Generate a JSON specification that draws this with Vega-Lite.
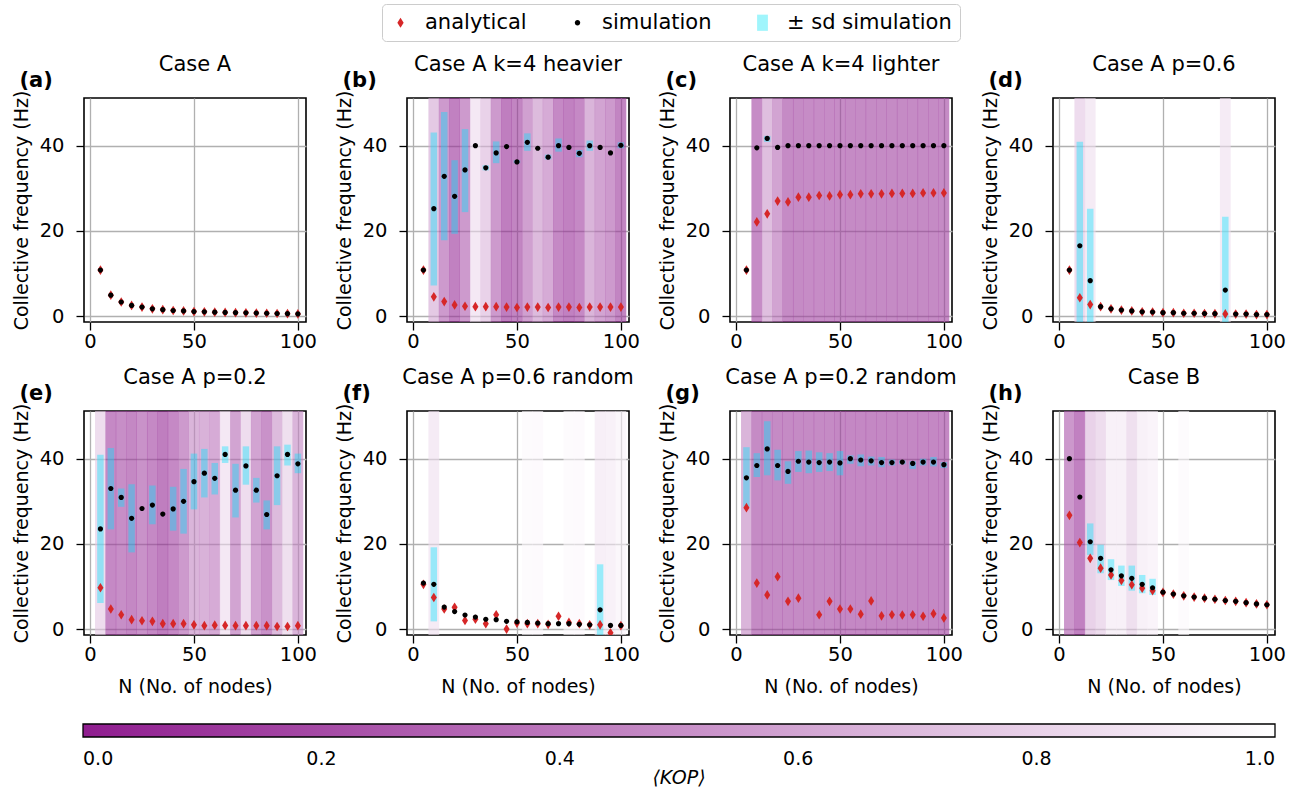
{
"$schema": "https://vega.github.io/schema/vega-lite/v6.json",
"padding": {"left": 11, "top": 3, "right": 10, "bottom": 5},
"background": "white",
"data": {"name": "d"},
"datasets": {"d": [
{"p":"a","N":5,"a":10.8,"s":10.8},{"p":"a","N":10,"a":4.9,"s":4.9},{"p":"a","N":15,"a":3.3,"s":3.3},{"p":"a","N":20,"a":2.5,"s":2.5},{"p":"a","N":25,"a":2.1,"s":2.1},{"p":"a","N":30,"a":1.7,"s":1.7},{"p":"a","N":35,"a":1.5,"s":1.5},{"p":"a","N":40,"a":1.3,"s":1.3},{"p":"a","N":45,"a":1.2,"s":1.2},{"p":"a","N":50,"a":1.05,"s":1.05},{"p":"a","N":55,"a":1.0,"s":1.0},{"p":"a","N":60,"a":0.9,"s":0.9},{"p":"a","N":65,"a":0.85,"s":0.85},{"p":"a","N":70,"a":0.8,"s":0.8},{"p":"a","N":75,"a":0.75,"s":0.75},{"p":"a","N":80,"a":0.7,"s":0.7},{"p":"a","N":85,"a":0.65,"s":0.65},{"p":"a","N":90,"a":0.6,"s":0.6},{"p":"a","N":95,"a":0.55,"s":0.55},{"p":"a","N":100,"a":0.5,"s":0.5},
{"p":"b","N":5,"a":10.8,"s":10.8},{"p":"b","N":10,"a":4.5,"s":25.2,"lo":7.2,"hi":43.1,"k":0.6},{"p":"b","N":15,"a":3.4,"s":32.8,"lo":17.8,"hi":47.9,"k":0.25},{"p":"b","N":20,"a":2.6,"s":28.1,"lo":19.3,"hi":36.6,"k":0.07},{"p":"b","N":25,"a":2.3,"s":34.3,"lo":24.4,"hi":43.9,"k":0.25},{"p":"b","N":30,"a":2.2,"s":40.0,"k":0.83},{"p":"b","N":35,"a":2.2,"s":34.8,"lo":34.2,"hi":35.4,"k":0.67},{"p":"b","N":40,"a":2.2,"s":38.3,"lo":35.9,"hi":41.0,"k":0.25},{"p":"b","N":45,"a":2.1,"s":39.8,"k":0.05},{"p":"b","N":50,"a":2.0,"s":36.2,"lo":35.9,"hi":36.6,"k":0.1},{"p":"b","N":55,"a":2.1,"s":40.8,"lo":38.8,"hi":42.9,"k":0.3},{"p":"b","N":60,"a":2.1,"s":39.4,"k":0.5},{"p":"b","N":65,"a":2.0,"s":37.3,"lo":36.8,"hi":37.9,"k":0.38},{"p":"b","N":70,"a":2.1,"s":40.0,"lo":38.6,"hi":41.7,"k":0.13},{"p":"b","N":75,"a":2.1,"s":39.6,"k":0.07},{"p":"b","N":80,"a":2.0,"s":38.2,"lo":37.3,"hi":39.0,"k":0.13},{"p":"b","N":85,"a":2.1,"s":40.0,"lo":38.8,"hi":41.2,"k":0.45},{"p":"b","N":90,"a":2.1,"s":39.6,"k":0.33},{"p":"b","N":95,"a":2.1,"s":38.3,"k":0.25},{"p":"b","N":100,"a":2.1,"s":40.1,"lo":39.4,"hi":40.8,"k":0.1},
{"p":"c","N":5,"a":10.8,"s":10.8},{"p":"c","N":10,"a":22.1,"s":39.5,"k":0.15},{"p":"c","N":15,"a":24.0,"s":41.7,"lo":40.9,"hi":42.3,"k":0.53},{"p":"c","N":20,"a":27.0,"s":39.6,"k":0.33},{"p":"c","N":25,"a":26.8,"s":40.0,"k":0.14},{"p":"c","N":30,"a":27.9,"s":40.0,"k":0.14},{"p":"c","N":35,"a":27.9,"s":40.0,"k":0.15},{"p":"c","N":40,"a":28.3,"s":40.0,"k":0.15},{"p":"c","N":45,"a":28.2,"s":40.0,"k":0.15},{"p":"c","N":50,"a":28.5,"s":40.0,"k":0.15},{"p":"c","N":55,"a":28.5,"s":40.0,"k":0.14},{"p":"c","N":60,"a":28.7,"s":40.0,"k":0.14},{"p":"c","N":65,"a":28.7,"s":40.0,"k":0.14},{"p":"c","N":70,"a":28.7,"s":40.0,"k":0.14},{"p":"c","N":75,"a":28.8,"s":40.0,"k":0.14},{"p":"c","N":80,"a":28.8,"s":40.0,"k":0.14},{"p":"c","N":85,"a":28.8,"s":40.0,"k":0.14},{"p":"c","N":90,"a":28.9,"s":40.0,"k":0.14},{"p":"c","N":95,"a":28.9,"s":40.0,"k":0.14},{"p":"c","N":100,"a":28.9,"s":40.0,"k":0.14},
{"p":"d","N":5,"a":10.8,"s":10.8},{"p":"d","N":10,"a":4.3,"s":16.5,"lo":-8,"hi":40.9,"k":0.74},{"p":"d","N":15,"a":2.7,"s":8.3,"lo":-8.6,"hi":25.2,"k":0.85},{"p":"d","N":20,"a":2.2,"s":2.2},{"p":"d","N":25,"a":1.7,"s":1.7},{"p":"d","N":30,"a":1.4,"s":1.4},{"p":"d","N":35,"a":1.2,"s":1.2},{"p":"d","N":40,"a":1.0,"s":1.0},{"p":"d","N":45,"a":0.95,"s":0.95},{"p":"d","N":50,"a":0.8,"s":0.8},{"p":"d","N":55,"a":0.8,"s":0.8},{"p":"d","N":60,"a":0.65,"s":0.65},{"p":"d","N":65,"a":0.65,"s":0.65},{"p":"d","N":70,"a":0.6,"s":0.6},{"p":"d","N":75,"a":0.55,"s":0.55},{"p":"d","N":80,"a":0.5,"s":6.1,"lo":-11,"hi":23.3,"k":0.85},{"p":"d","N":85,"a":0.45,"s":0.45},{"p":"d","N":90,"a":0.45,"s":0.45},{"p":"d","N":95,"a":0.35,"s":0.35},{"p":"d","N":100,"a":0.35,"s":0.35},
{"p":"e","N":5,"a":9.7,"s":23.5,"lo":6.1,"hi":40.9,"k":0.75},{"p":"e","N":10,"a":4.7,"s":33.0,"lo":23.4,"hi":42.5,"k":0.13},{"p":"e","N":15,"a":3.35,"s":30.9,"lo":28.7,"hi":33.0,"k":0.17},{"p":"e","N":20,"a":2.2,"s":26.0,"lo":18.0,"hi":34.0,"k":0.12},{"p":"e","N":25,"a":1.95,"s":28.3,"k":0.2},{"p":"e","N":30,"a":1.8,"s":29.1,"lo":24.6,"hi":33.7,"k":0.13},{"p":"e","N":35,"a":1.25,"s":27.0,"k":0.05},{"p":"e","N":40,"a":1.25,"s":28.2,"lo":23.1,"hi":33.4,"k":0.13},{"p":"e","N":45,"a":1.25,"s":30.0,"lo":22.4,"hi":37.6,"k":0.25},{"p":"e","N":50,"a":1.0,"s":34.6,"lo":28.1,"hi":41.2,"k":0.45},{"p":"e","N":55,"a":0.8,"s":36.6,"lo":30.9,"hi":42.3,"k":0.43},{"p":"e","N":60,"a":0.9,"s":35.4,"lo":31.6,"hi":39.0,"k":0.38},{"p":"e","N":65,"a":0.85,"s":41.0,"lo":39.0,"hi":42.9,"k":0.83},{"p":"e","N":70,"a":0.8,"s":32.6,"lo":26.2,"hi":38.8,"k":0.33},{"p":"e","N":75,"a":0.8,"s":38.3,"lo":33.9,"hi":42.9,"k":0.75},{"p":"e","N":80,"a":0.8,"s":32.6,"lo":29.7,"hi":35.5,"k":0.33},{"p":"e","N":85,"a":0.8,"s":26.9,"lo":23.4,"hi":30.2,"k":0.2},{"p":"e","N":90,"a":0.6,"s":36.0,"lo":29.1,"hi":42.9,"k":0.5},{"p":"e","N":95,"a":0.6,"s":41.0,"lo":38.4,"hi":43.3,"k":0.77},{"p":"e","N":100,"a":0.8,"s":38.8,"lo":36.6,"hi":41.2,"k":0.45},
{"p":"f","N":5,"a":10.5,"s":10.8},{"p":"f","N":10,"a":7.4,"s":10.5,"lo":1.8,"hi":19.2,"k":0.85},{"p":"f","N":15,"a":4.7,"s":5.15},{"p":"f","N":20,"a":5.1,"s":4.1},{"p":"f","N":25,"a":2.0,"s":3.3},{"p":"f","N":30,"a":2.3,"s":2.8},{"p":"f","N":35,"a":1.25,"s":2.3},{"p":"f","N":40,"a":3.35,"s":2.2},{"p":"f","N":45,"a":0.0,"s":1.8},{"p":"f","N":50,"a":1.4,"s":1.7},{"p":"f","N":55,"a":1.25,"s":1.55,"k":0.97},{"p":"f","N":60,"a":1.25,"s":1.4,"k":0.96},{"p":"f","N":65,"a":1.1,"s":1.25},{"p":"f","N":70,"a":3.0,"s":1.25},{"p":"f","N":75,"a":1.55,"s":1.25,"k":0.97},{"p":"f","N":80,"a":1.25,"s":1.1,"k":0.96},{"p":"f","N":85,"a":1.0,"s":1.0},{"p":"f","N":90,"a":1.0,"s":4.5,"lo":-6,"hi":15.2,"k":0.88},{"p":"f","N":95,"a":-0.9,"s":0.86,"k":0.9},{"p":"f","N":100,"a":0.8,"s":0.86,"k":0.94},
{"p":"g","N":5,"a":28.5,"s":35.5,"lo":28.7,"hi":42.7,"k":0.45},{"p":"g","N":10,"a":10.8,"s":38.4,"lo":35.7,"hi":41.3,"k":0.14},{"p":"g","N":15,"a":8.0,"s":42.3,"lo":36.1,"hi":48.8,"k":0.14},{"p":"g","N":20,"a":12.3,"s":38.4,"lo":34.9,"hi":42.1,"k":0.14},{"p":"g","N":25,"a":6.5,"s":37.0,"lo":34.1,"hi":39.4,"k":0.14},{"p":"g","N":30,"a":7.25,"s":39.4,"lo":36.9,"hi":41.8,"k":0.14},{"p":"g","N":35,"s":39.2,"lo":36.6,"hi":41.9,"k":0.14},{"p":"g","N":40,"a":3.35,"s":39.1,"lo":36.9,"hi":41.5,"k":0.14},{"p":"g","N":45,"a":6.5,"s":39.2,"lo":37.1,"hi":41.3,"k":0.14},{"p":"g","N":50,"a":4.7,"s":39.0,"lo":36.1,"hi":41.8,"k":0.12},{"p":"g","N":55,"a":4.7,"s":40.0,"lo":38.8,"hi":40.8,"k":0.12},{"p":"g","N":60,"a":3.5,"s":39.7,"lo":38.2,"hi":41.0,"k":0.12},{"p":"g","N":65,"a":6.6,"s":39.5,"lo":38.4,"hi":40.5,"k":0.12},{"p":"g","N":70,"a":3.1,"s":39.1,"lo":38.0,"hi":40.4,"k":0.12},{"p":"g","N":75,"a":3.35,"s":39.1,"lo":38.4,"hi":39.8,"k":0.12},{"p":"g","N":80,"a":3.3,"s":39.2,"lo":38.7,"hi":39.6,"k":0.12},{"p":"g","N":85,"a":3.35,"s":38.9,"lo":37.6,"hi":39.4,"k":0.12},{"p":"g","N":90,"a":3.0,"s":39.2,"lo":38.4,"hi":40.0,"k":0.12},{"p":"g","N":95,"a":3.6,"s":39.2,"lo":38.2,"hi":40.4,"k":0.12},{"p":"g","N":100,"a":2.6,"s":38.6,"lo":37.8,"hi":39.2,"k":0.12},
{"p":"h","N":5,"a":26.7,"s":40.0,"k":0.24},{"p":"h","N":10,"a":20.3,"s":31.0,"k":0.07},{"p":"h","N":15,"a":16.6,"s":20.5,"lo":17.4,"hi":24.8,"k":0.67},{"p":"h","N":20,"a":14.3,"s":16.6,"lo":13.1,"hi":19.8,"k":0.75},{"p":"h","N":25,"a":12.7,"s":13.9,"lo":11.5,"hi":16.4,"k":0.9},{"p":"h","N":30,"a":11.4,"s":12.5,"lo":10.1,"hi":14.9,"k":0.9},{"p":"h","N":35,"a":10.4,"s":11.9,"lo":9.0,"hi":14.9,"k":0.77},{"p":"h","N":40,"a":9.6,"s":10.5,"lo":8.4,"hi":12.7,"k":0.9},{"p":"h","N":45,"a":9.0,"s":9.7,"lo":8.0,"hi":11.8,"k":0.92},{"p":"h","N":50,"a":8.6,"s":8.65},{"p":"h","N":55,"a":8.2,"s":8.2},{"p":"h","N":60,"a":7.8,"s":7.8,"k":0.97},{"p":"h","N":65,"a":7.5,"s":7.5},{"p":"h","N":70,"a":7.25,"s":7.25},{"p":"h","N":75,"a":7.0,"s":7.0},{"p":"h","N":80,"a":6.7,"s":6.7},{"p":"h","N":85,"a":6.5,"s":6.5},{"p":"h","N":90,"a":6.2,"s":6.2},{"p":"h","N":95,"a":5.9,"s":5.9},{"p":"h","N":100,"a":5.7,"s":5.7}
]},
"columns": 4,
"spacing": {"row": 89, "column": 101},
"bounds": "flush",
"concat": [
{"width":222,"height":224,"title":{"text":"Case A","dy":10},"transform":[{"filter":"datum.p == 'a'"}],"resolve":{"axis":{"x":"independent","y":"independent"}},"layer":[
{"transform":[{"filter":"isValid(datum.k)"}],"mark":{"type":"bar","width":10.8,"fillOpacity":0.6,"clip":true},"encoding":{"x":{"field":"N","type":"quantitative","scale":{"domain":[-0.5,101.5],"nice":false,"zero":false},"axis":null},"y":{"datum":51.2,"type":"quantitative","scale":{"domain":[-1.4,51.2],"nice":false,"zero":false},"axis":null},"y2":{"datum":-1.4},"fill":{"field":"k","type":"quantitative","scale":{"domain":[0,1],"range":["#8f1d8f","#ffffff"],"interpolate":"rgb"},"legend":{"orient":"none","legendX":-1,"legendY":626,"direction":"horizontal","gradientLength":1192,"gradientThickness":13,"title":"⟨KOP⟩","titleOrient":"bottom","titleAnchor":"middle","titleFontStyle":"italic","titleFontWeight":"normal","titleFontSize":19,"titlePadding":0,"labelFontSize":19,"labelOffset":13,"labelAlign":"center","values":[0,0.2,0.4,0.6,0.8,1],"format":".1f","gradientStrokeColor":"#000000","gradientStrokeWidth":1.3,"padding":0}}}},
{"transform":[{"filter":"isValid(datum.hi)"}],"mark":{"type":"bar","width":6.5,"color":"#00e5ff","opacity":0.38,"clip":true},"encoding":{"x":{"field":"N","type":"quantitative","scale":{"domain":[-0.5,101.5],"nice":false,"zero":false},"axis":null},"y":{"field":"hi","type":"quantitative","scale":{"domain":[-1.4,51.2],"nice":false,"zero":false},"axis":null},"y2":{"field":"lo"}}},
{"transform":[{"filter":"isValid(datum.a)"}],"mark":{"type":"point","filled":true,"opacity":1,"size":300},"encoding":{"x":{"field":"N","type":"quantitative","scale":{"domain":[-0.5,101.5],"nice":false,"zero":false},"axis":{"orient":"bottom","values":[0,50,100],"grid":true,"title":null,"labelPadding":2}},"y":{"field":"a","type":"quantitative","scale":{"domain":[-1.4,51.2],"nice":false,"zero":false},"axis":{"orient":"left","values":[0,20,40],"grid":true,"title":"Collective frequency (Hz)","labelPadding":12,"titlePadding":8}},"color":{"datum":"analytical","type":"nominal","scale":{"domain":["analytical","simulation","± sd simulation"],"range":["#d62728","#000000","#a0f5fc"]},"legend":{"orient":"none","legendX":298,"legendY":-94,"direction":"horizontal","title":null,"symbolSize":324,"labelFontSize":21,"labelOffset":14,"labelLimit":0,"columnPadding":40,"padding":8,"strokeColor":"#cccccc","cornerRadius":4,"fillColor":"#ffffff","symbolStrokeWidth":0,"symbolOpacity":1}},"shape":{"datum":"analytical","type":"nominal","scale":{"domain":["analytical","simulation","± sd simulation"],"range":["M0,-0.56L0.35,0L0,0.56L-0.35,0Z","M0.3,0A0.3,0.3,0,1,1,-0.3,0A0.3,0.3,0,1,1,0.3,0Z","M-0.6,-0.9H0.6V0.9H-0.6Z"]},"legend":{"orient":"none","legendX":298,"legendY":-94,"direction":"horizontal","title":null,"symbolSize":324,"labelFontSize":21,"labelOffset":14,"labelLimit":0,"columnPadding":40,"padding":8,"strokeColor":"#cccccc","cornerRadius":4,"fillColor":"#ffffff","symbolStrokeWidth":0,"symbolOpacity":1}}}},
{"transform":[{"filter":"isValid(datum.s)"}],"mark":{"type":"point","filled":true,"opacity":1,"size":300},"encoding":{"x":{"field":"N","type":"quantitative","scale":{"domain":[-0.5,101.5],"nice":false,"zero":false},"axis":{"orient":"top","title":"(a)","labels":false,"ticks":false,"domain":false,"grid":false,"titleFontWeight":"bold","titleFontSize":21,"titleAlign":"left","titleAnchor":"start","titleX":-65,"titleY":-12,"titleBaseline":"alphabetic"}},"y":{"field":"s","type":"quantitative","scale":{"domain":[-1.4,51.2],"nice":false,"zero":false},"axis":null},"color":{"datum":"simulation","type":"nominal"},"shape":{"datum":"simulation","type":"nominal"}}}
]},
{"width":222,"height":224,"title":{"text":"Case A k=4 heavier","dy":10},"transform":[{"filter":"datum.p == 'b'"}],"resolve":{"axis":{"x":"independent","y":"independent"}},"layer":[
{"transform":[{"filter":"isValid(datum.k)"}],"mark":{"type":"bar","width":10.8,"fillOpacity":0.6,"clip":true},"encoding":{"x":{"field":"N","type":"quantitative","scale":{"domain":[-0.5,101.5],"nice":false,"zero":false},"axis":null},"y":{"datum":51.2,"type":"quantitative","scale":{"domain":[-1.4,51.2],"nice":false,"zero":false},"axis":null},"y2":{"datum":-1.4},"fill":{"field":"k","type":"quantitative"}}},
{"transform":[{"filter":"isValid(datum.hi)"}],"mark":{"type":"bar","width":6.5,"color":"#00e5ff","opacity":0.38,"clip":true},"encoding":{"x":{"field":"N","type":"quantitative","scale":{"domain":[-0.5,101.5],"nice":false,"zero":false},"axis":null},"y":{"field":"hi","type":"quantitative","scale":{"domain":[-1.4,51.2],"nice":false,"zero":false},"axis":null},"y2":{"field":"lo"}}},
{"transform":[{"filter":"isValid(datum.a)"}],"mark":{"type":"point","filled":true,"opacity":1,"size":300},"encoding":{"x":{"field":"N","type":"quantitative","scale":{"domain":[-0.5,101.5],"nice":false,"zero":false},"axis":{"orient":"bottom","values":[0,50,100],"grid":true,"title":null,"labelPadding":2}},"y":{"field":"a","type":"quantitative","scale":{"domain":[-1.4,51.2],"nice":false,"zero":false},"axis":{"orient":"left","values":[0,20,40],"grid":true,"title":"Collective frequency (Hz)","labelPadding":12,"titlePadding":8}},"color":{"datum":"analytical","type":"nominal"},"shape":{"datum":"analytical","type":"nominal"}}},
{"transform":[{"filter":"isValid(datum.s)"}],"mark":{"type":"point","filled":true,"opacity":1,"size":300},"encoding":{"x":{"field":"N","type":"quantitative","scale":{"domain":[-0.5,101.5],"nice":false,"zero":false},"axis":{"orient":"top","title":"(b)","labels":false,"ticks":false,"domain":false,"grid":false,"titleFontWeight":"bold","titleFontSize":21,"titleAlign":"left","titleAnchor":"start","titleX":-65,"titleY":-12,"titleBaseline":"alphabetic"}},"y":{"field":"s","type":"quantitative","scale":{"domain":[-1.4,51.2],"nice":false,"zero":false},"axis":null},"color":{"datum":"simulation","type":"nominal"},"shape":{"datum":"simulation","type":"nominal"}}}
]},
{"width":222,"height":224,"title":{"text":"Case A k=4 lighter","dy":10},"transform":[{"filter":"datum.p == 'c'"}],"resolve":{"axis":{"x":"independent","y":"independent"}},"layer":[
{"transform":[{"filter":"isValid(datum.k)"}],"mark":{"type":"bar","width":10.8,"fillOpacity":0.6,"clip":true},"encoding":{"x":{"field":"N","type":"quantitative","scale":{"domain":[-0.5,101.5],"nice":false,"zero":false},"axis":null},"y":{"datum":51.2,"type":"quantitative","scale":{"domain":[-1.4,51.2],"nice":false,"zero":false},"axis":null},"y2":{"datum":-1.4},"fill":{"field":"k","type":"quantitative"}}},
{"transform":[{"filter":"isValid(datum.hi)"}],"mark":{"type":"bar","width":6.5,"color":"#00e5ff","opacity":0.38,"clip":true},"encoding":{"x":{"field":"N","type":"quantitative","scale":{"domain":[-0.5,101.5],"nice":false,"zero":false},"axis":null},"y":{"field":"hi","type":"quantitative","scale":{"domain":[-1.4,51.2],"nice":false,"zero":false},"axis":null},"y2":{"field":"lo"}}},
{"transform":[{"filter":"isValid(datum.a)"}],"mark":{"type":"point","filled":true,"opacity":1,"size":300},"encoding":{"x":{"field":"N","type":"quantitative","scale":{"domain":[-0.5,101.5],"nice":false,"zero":false},"axis":{"orient":"bottom","values":[0,50,100],"grid":true,"title":null,"labelPadding":2}},"y":{"field":"a","type":"quantitative","scale":{"domain":[-1.4,51.2],"nice":false,"zero":false},"axis":{"orient":"left","values":[0,20,40],"grid":true,"title":"Collective frequency (Hz)","labelPadding":12,"titlePadding":8}},"color":{"datum":"analytical","type":"nominal"},"shape":{"datum":"analytical","type":"nominal"}}},
{"transform":[{"filter":"isValid(datum.s)"}],"mark":{"type":"point","filled":true,"opacity":1,"size":300},"encoding":{"x":{"field":"N","type":"quantitative","scale":{"domain":[-0.5,101.5],"nice":false,"zero":false},"axis":{"orient":"top","title":"(c)","labels":false,"ticks":false,"domain":false,"grid":false,"titleFontWeight":"bold","titleFontSize":21,"titleAlign":"left","titleAnchor":"start","titleX":-65,"titleY":-12,"titleBaseline":"alphabetic"}},"y":{"field":"s","type":"quantitative","scale":{"domain":[-1.4,51.2],"nice":false,"zero":false},"axis":null},"color":{"datum":"simulation","type":"nominal"},"shape":{"datum":"simulation","type":"nominal"}}}
]},
{"width":222,"height":224,"title":{"text":"Case A p=0.6","dy":10},"transform":[{"filter":"datum.p == 'd'"}],"resolve":{"axis":{"x":"independent","y":"independent"}},"layer":[
{"transform":[{"filter":"isValid(datum.k)"}],"mark":{"type":"bar","width":10.8,"fillOpacity":0.6,"clip":true},"encoding":{"x":{"field":"N","type":"quantitative","scale":{"domain":[-0.5,101.5],"nice":false,"zero":false},"axis":null},"y":{"datum":51.2,"type":"quantitative","scale":{"domain":[-1.4,51.2],"nice":false,"zero":false},"axis":null},"y2":{"datum":-1.4},"fill":{"field":"k","type":"quantitative"}}},
{"transform":[{"filter":"isValid(datum.hi)"}],"mark":{"type":"bar","width":6.5,"color":"#00e5ff","opacity":0.38,"clip":true},"encoding":{"x":{"field":"N","type":"quantitative","scale":{"domain":[-0.5,101.5],"nice":false,"zero":false},"axis":null},"y":{"field":"hi","type":"quantitative","scale":{"domain":[-1.4,51.2],"nice":false,"zero":false},"axis":null},"y2":{"field":"lo"}}},
{"transform":[{"filter":"isValid(datum.a)"}],"mark":{"type":"point","filled":true,"opacity":1,"size":300},"encoding":{"x":{"field":"N","type":"quantitative","scale":{"domain":[-0.5,101.5],"nice":false,"zero":false},"axis":{"orient":"bottom","values":[0,50,100],"grid":true,"title":null,"labelPadding":2}},"y":{"field":"a","type":"quantitative","scale":{"domain":[-1.4,51.2],"nice":false,"zero":false},"axis":{"orient":"left","values":[0,20,40],"grid":true,"title":"Collective frequency (Hz)","labelPadding":12,"titlePadding":8}},"color":{"datum":"analytical","type":"nominal"},"shape":{"datum":"analytical","type":"nominal"}}},
{"transform":[{"filter":"isValid(datum.s)"}],"mark":{"type":"point","filled":true,"opacity":1,"size":300},"encoding":{"x":{"field":"N","type":"quantitative","scale":{"domain":[-0.5,101.5],"nice":false,"zero":false},"axis":{"orient":"top","title":"(d)","labels":false,"ticks":false,"domain":false,"grid":false,"titleFontWeight":"bold","titleFontSize":21,"titleAlign":"left","titleAnchor":"start","titleX":-65,"titleY":-12,"titleBaseline":"alphabetic"}},"y":{"field":"s","type":"quantitative","scale":{"domain":[-1.4,51.2],"nice":false,"zero":false},"axis":null},"color":{"datum":"simulation","type":"nominal"},"shape":{"datum":"simulation","type":"nominal"}}}
]},
{"width":222,"height":224,"title":{"text":"Case A p=0.2","dy":10},"transform":[{"filter":"datum.p == 'e'"}],"resolve":{"axis":{"x":"independent","y":"independent"}},"layer":[
{"transform":[{"filter":"isValid(datum.k)"}],"mark":{"type":"bar","width":10.8,"fillOpacity":0.6,"clip":true},"encoding":{"x":{"field":"N","type":"quantitative","scale":{"domain":[-0.5,101.5],"nice":false,"zero":false},"axis":null},"y":{"datum":51.2,"type":"quantitative","scale":{"domain":[-1.4,51.2],"nice":false,"zero":false},"axis":null},"y2":{"datum":-1.4},"fill":{"field":"k","type":"quantitative"}}},
{"transform":[{"filter":"isValid(datum.hi)"}],"mark":{"type":"bar","width":6.5,"color":"#00e5ff","opacity":0.38,"clip":true},"encoding":{"x":{"field":"N","type":"quantitative","scale":{"domain":[-0.5,101.5],"nice":false,"zero":false},"axis":null},"y":{"field":"hi","type":"quantitative","scale":{"domain":[-1.4,51.2],"nice":false,"zero":false},"axis":null},"y2":{"field":"lo"}}},
{"transform":[{"filter":"isValid(datum.a)"}],"mark":{"type":"point","filled":true,"opacity":1,"size":300},"encoding":{"x":{"field":"N","type":"quantitative","scale":{"domain":[-0.5,101.5],"nice":false,"zero":false},"axis":{"orient":"bottom","values":[0,50,100],"grid":true,"title":"N (No. of nodes)","labelPadding":2,"titlePadding":14}},"y":{"field":"a","type":"quantitative","scale":{"domain":[-1.4,51.2],"nice":false,"zero":false},"axis":{"orient":"left","values":[0,20,40],"grid":true,"title":"Collective frequency (Hz)","labelPadding":12,"titlePadding":8}},"color":{"datum":"analytical","type":"nominal"},"shape":{"datum":"analytical","type":"nominal"}}},
{"transform":[{"filter":"isValid(datum.s)"}],"mark":{"type":"point","filled":true,"opacity":1,"size":300},"encoding":{"x":{"field":"N","type":"quantitative","scale":{"domain":[-0.5,101.5],"nice":false,"zero":false},"axis":{"orient":"top","title":"(e)","labels":false,"ticks":false,"domain":false,"grid":false,"titleFontWeight":"bold","titleFontSize":21,"titleAlign":"left","titleAnchor":"start","titleX":-65,"titleY":-12,"titleBaseline":"alphabetic"}},"y":{"field":"s","type":"quantitative","scale":{"domain":[-1.4,51.2],"nice":false,"zero":false},"axis":null},"color":{"datum":"simulation","type":"nominal"},"shape":{"datum":"simulation","type":"nominal"}}}
]},
{"width":222,"height":224,"title":{"text":"Case A p=0.6 random","dy":10},"transform":[{"filter":"datum.p == 'f'"}],"resolve":{"axis":{"x":"independent","y":"independent"}},"layer":[
{"transform":[{"filter":"isValid(datum.k)"}],"mark":{"type":"bar","width":10.8,"fillOpacity":0.6,"clip":true},"encoding":{"x":{"field":"N","type":"quantitative","scale":{"domain":[-0.5,101.5],"nice":false,"zero":false},"axis":null},"y":{"datum":51.2,"type":"quantitative","scale":{"domain":[-1.4,51.2],"nice":false,"zero":false},"axis":null},"y2":{"datum":-1.4},"fill":{"field":"k","type":"quantitative"}}},
{"transform":[{"filter":"isValid(datum.hi)"}],"mark":{"type":"bar","width":6.5,"color":"#00e5ff","opacity":0.38,"clip":true},"encoding":{"x":{"field":"N","type":"quantitative","scale":{"domain":[-0.5,101.5],"nice":false,"zero":false},"axis":null},"y":{"field":"hi","type":"quantitative","scale":{"domain":[-1.4,51.2],"nice":false,"zero":false},"axis":null},"y2":{"field":"lo"}}},
{"transform":[{"filter":"isValid(datum.a)"}],"mark":{"type":"point","filled":true,"opacity":1,"size":300,"clip":true},"encoding":{"x":{"field":"N","type":"quantitative","scale":{"domain":[-0.5,101.5],"nice":false,"zero":false},"axis":{"orient":"bottom","values":[0,50,100],"grid":true,"title":"N (No. of nodes)","labelPadding":2,"titlePadding":14}},"y":{"field":"a","type":"quantitative","scale":{"domain":[-1.4,51.2],"nice":false,"zero":false},"axis":{"orient":"left","values":[0,20,40],"grid":true,"title":"Collective frequency (Hz)","labelPadding":12,"titlePadding":8}},"color":{"datum":"analytical","type":"nominal"},"shape":{"datum":"analytical","type":"nominal"}}},
{"transform":[{"filter":"isValid(datum.s)"}],"mark":{"type":"point","filled":true,"opacity":1,"size":300},"encoding":{"x":{"field":"N","type":"quantitative","scale":{"domain":[-0.5,101.5],"nice":false,"zero":false},"axis":{"orient":"top","title":"(f)","labels":false,"ticks":false,"domain":false,"grid":false,"titleFontWeight":"bold","titleFontSize":21,"titleAlign":"left","titleAnchor":"start","titleX":-65,"titleY":-12,"titleBaseline":"alphabetic"}},"y":{"field":"s","type":"quantitative","scale":{"domain":[-1.4,51.2],"nice":false,"zero":false},"axis":null},"color":{"datum":"simulation","type":"nominal"},"shape":{"datum":"simulation","type":"nominal"}}}
]},
{"width":222,"height":224,"title":{"text":"Case A p=0.2 random","dy":10},"transform":[{"filter":"datum.p == 'g'"}],"resolve":{"axis":{"x":"independent","y":"independent"}},"layer":[
{"transform":[{"filter":"isValid(datum.k)"}],"mark":{"type":"bar","width":10.8,"fillOpacity":0.6,"clip":true},"encoding":{"x":{"field":"N","type":"quantitative","scale":{"domain":[-0.5,101.5],"nice":false,"zero":false},"axis":null},"y":{"datum":51.2,"type":"quantitative","scale":{"domain":[-1.4,51.2],"nice":false,"zero":false},"axis":null},"y2":{"datum":-1.4},"fill":{"field":"k","type":"quantitative"}}},
{"transform":[{"filter":"isValid(datum.hi)"}],"mark":{"type":"bar","width":6.5,"color":"#00e5ff","opacity":0.38,"clip":true},"encoding":{"x":{"field":"N","type":"quantitative","scale":{"domain":[-0.5,101.5],"nice":false,"zero":false},"axis":null},"y":{"field":"hi","type":"quantitative","scale":{"domain":[-1.4,51.2],"nice":false,"zero":false},"axis":null},"y2":{"field":"lo"}}},
{"transform":[{"filter":"isValid(datum.a)"}],"mark":{"type":"point","filled":true,"opacity":1,"size":300},"encoding":{"x":{"field":"N","type":"quantitative","scale":{"domain":[-0.5,101.5],"nice":false,"zero":false},"axis":{"orient":"bottom","values":[0,50,100],"grid":true,"title":"N (No. of nodes)","labelPadding":2,"titlePadding":14}},"y":{"field":"a","type":"quantitative","scale":{"domain":[-1.4,51.2],"nice":false,"zero":false},"axis":{"orient":"left","values":[0,20,40],"grid":true,"title":"Collective frequency (Hz)","labelPadding":12,"titlePadding":8}},"color":{"datum":"analytical","type":"nominal"},"shape":{"datum":"analytical","type":"nominal"}}},
{"transform":[{"filter":"isValid(datum.s)"}],"mark":{"type":"point","filled":true,"opacity":1,"size":300},"encoding":{"x":{"field":"N","type":"quantitative","scale":{"domain":[-0.5,101.5],"nice":false,"zero":false},"axis":{"orient":"top","title":"(g)","labels":false,"ticks":false,"domain":false,"grid":false,"titleFontWeight":"bold","titleFontSize":21,"titleAlign":"left","titleAnchor":"start","titleX":-65,"titleY":-12,"titleBaseline":"alphabetic"}},"y":{"field":"s","type":"quantitative","scale":{"domain":[-1.4,51.2],"nice":false,"zero":false},"axis":null},"color":{"datum":"simulation","type":"nominal"},"shape":{"datum":"simulation","type":"nominal"}}}
]},
{"width":222,"height":224,"title":{"text":"Case B","dy":10},"transform":[{"filter":"datum.p == 'h'"}],"resolve":{"axis":{"x":"independent","y":"independent"}},"layer":[
{"transform":[{"filter":"isValid(datum.k)"}],"mark":{"type":"bar","width":10.8,"fillOpacity":0.6,"clip":true},"encoding":{"x":{"field":"N","type":"quantitative","scale":{"domain":[-0.5,101.5],"nice":false,"zero":false},"axis":null},"y":{"datum":51.2,"type":"quantitative","scale":{"domain":[-1.4,51.2],"nice":false,"zero":false},"axis":null},"y2":{"datum":-1.4},"fill":{"field":"k","type":"quantitative"}}},
{"transform":[{"filter":"isValid(datum.hi)"}],"mark":{"type":"bar","width":6.5,"color":"#00e5ff","opacity":0.38,"clip":true},"encoding":{"x":{"field":"N","type":"quantitative","scale":{"domain":[-0.5,101.5],"nice":false,"zero":false},"axis":null},"y":{"field":"hi","type":"quantitative","scale":{"domain":[-1.4,51.2],"nice":false,"zero":false},"axis":null},"y2":{"field":"lo"}}},
{"transform":[{"filter":"isValid(datum.a)"}],"mark":{"type":"point","filled":true,"opacity":1,"size":300},"encoding":{"x":{"field":"N","type":"quantitative","scale":{"domain":[-0.5,101.5],"nice":false,"zero":false},"axis":{"orient":"bottom","values":[0,50,100],"grid":true,"title":"N (No. of nodes)","labelPadding":2,"titlePadding":14}},"y":{"field":"a","type":"quantitative","scale":{"domain":[-1.4,51.2],"nice":false,"zero":false},"axis":{"orient":"left","values":[0,20,40],"grid":true,"title":"Collective frequency (Hz)","labelPadding":12,"titlePadding":8}},"color":{"datum":"analytical","type":"nominal"},"shape":{"datum":"analytical","type":"nominal"}}},
{"transform":[{"filter":"isValid(datum.s)"}],"mark":{"type":"point","filled":true,"opacity":1,"size":300},"encoding":{"x":{"field":"N","type":"quantitative","scale":{"domain":[-0.5,101.5],"nice":false,"zero":false},"axis":{"orient":"top","title":"(h)","labels":false,"ticks":false,"domain":false,"grid":false,"titleFontWeight":"bold","titleFontSize":21,"titleAlign":"left","titleAnchor":"start","titleX":-65,"titleY":-12,"titleBaseline":"alphabetic"}},"y":{"field":"s","type":"quantitative","scale":{"domain":[-1.4,51.2],"nice":false,"zero":false},"axis":null},"color":{"datum":"simulation","type":"nominal"},"shape":{"datum":"simulation","type":"nominal"}}}
]}
],
"config": {
"font": "DejaVu Sans",
"view": {"stroke": "#000000", "strokeWidth": 1.6},
"axis": {"domain": false, "tickColor": "#000000", "tickWidth": 1.3, "tickSize": 8, "labelFontSize": 19.5, "labelColor": "#000000", "titleFontSize": 19, "titleFontWeight": "normal", "titleColor": "#000000", "gridColor": "#b0b0b0", "gridWidth": 1.3, "labelFont": "DejaVu Sans", "titleFont": "DejaVu Sans"},
"title": {"fontSize": 21, "fontWeight": "normal", "color": "#000000", "font": "DejaVu Sans"},
"legend": {"labelFont": "DejaVu Sans", "titleFont": "DejaVu Sans", "labelColor": "#000000", "titleColor": "#000000"}
}
}
